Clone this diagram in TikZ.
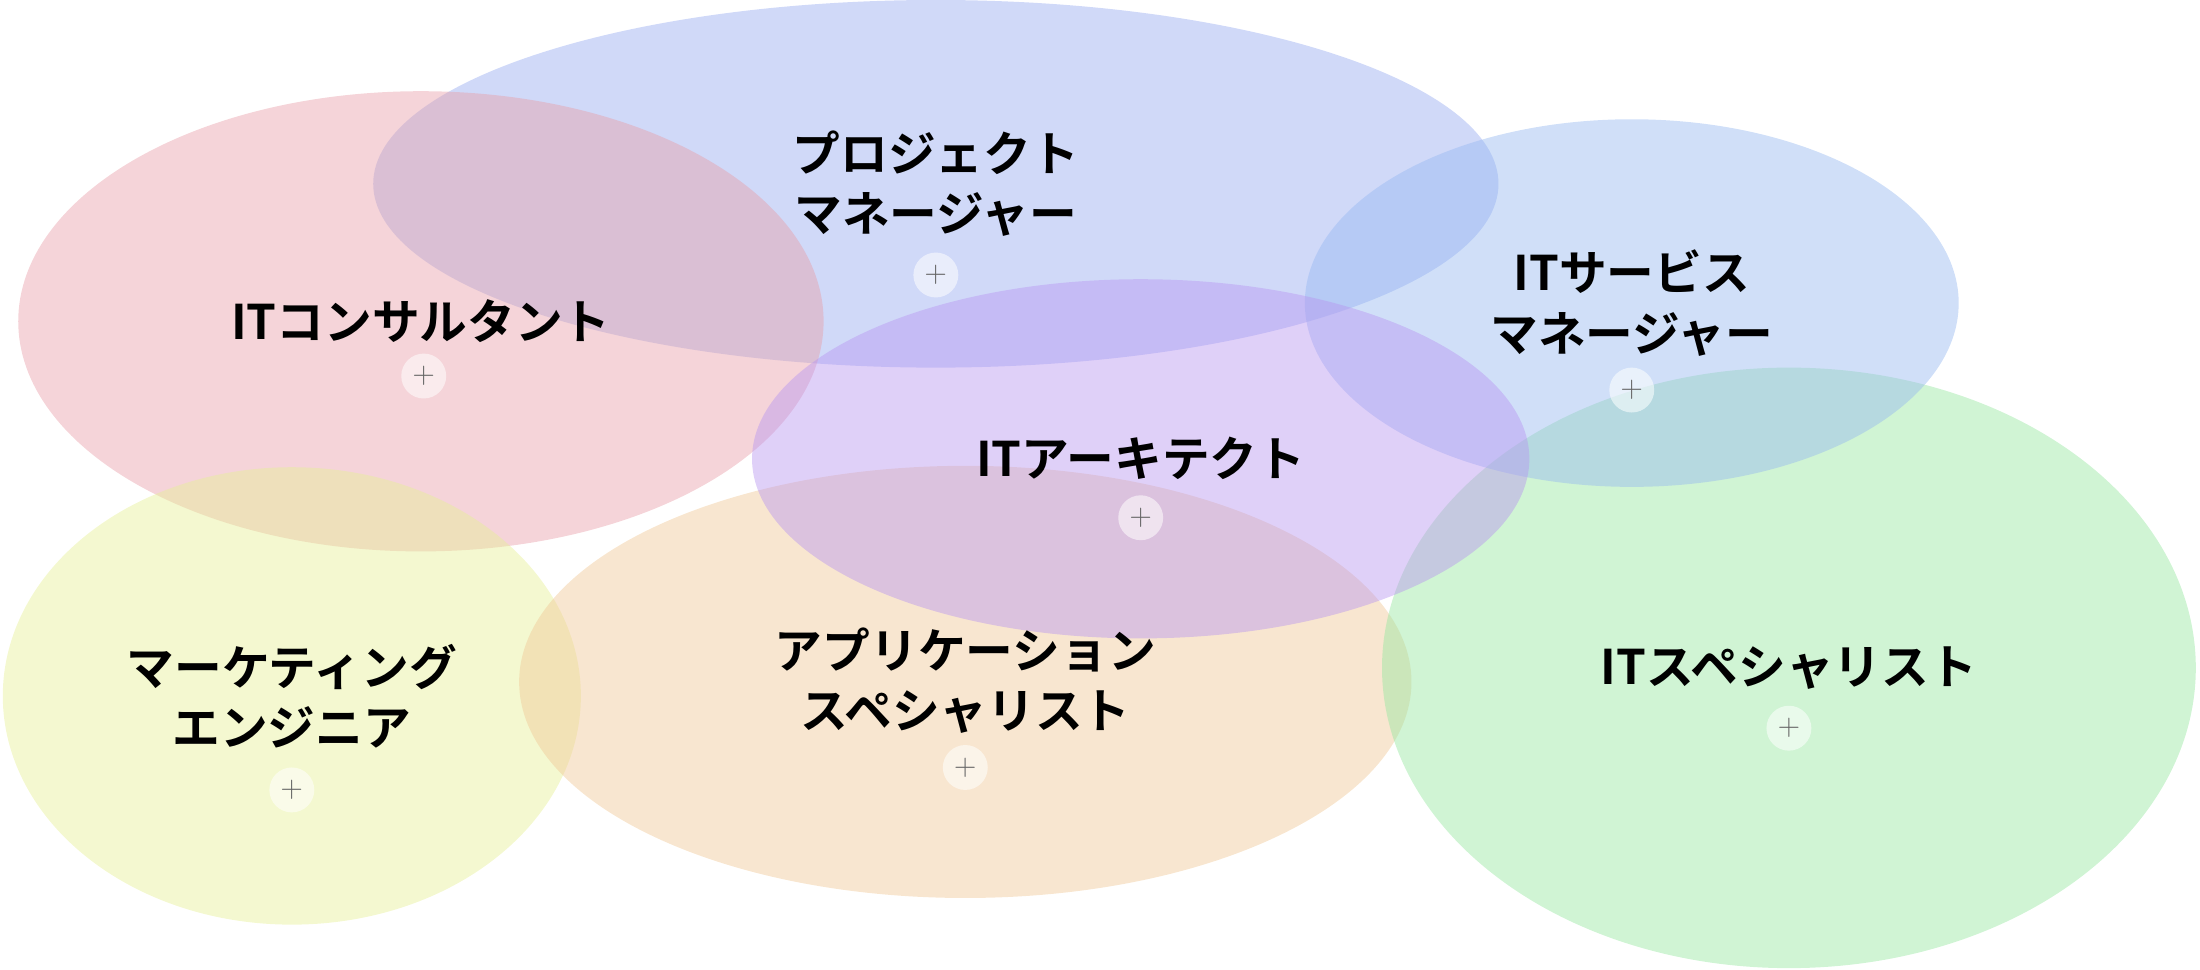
\documentclass[tikz,border=0pt]{standalone}
\usepackage{fontspec}
\newfontfamily\jp{Noto Sans CJK JP}[BoldFont={Noto Sans CJK JP Bold}]
\begin{document}
\begin{tikzpicture}[x=1pt,y=-1pt,
  ell/.style={fill opacity=0.45,draw=none},
  lbl/.style={font=\jp\bfseries\fontsize{34}{43}\selectfont,align=center,text=black},
  plusnode/.style={circle,minimum size=32pt,inner sep=0pt,fill=white,fill opacity=0.55,text opacity=1,text=black!60,font=\fontsize{22}{22}\selectfont}]
\useasboundingbox (0,0) rectangle (1568,691);
\fill[ell,fill={rgb,255:red,150;green,170;blue,240}] (667,131) ellipse [x radius=401,y radius=131];
\fill[ell,fill={rgb,255:red,232;green,160;blue,170}] (300,229) ellipse [x radius=287,y radius=164];
\fill[ell,fill={rgb,255:red,230;green,240;blue,150}] (208,496) ellipse [x radius=206,y radius=163];
\fill[ell,fill={rgb,255:red,240;green,200;blue,150}] (688,486) ellipse [x radius=318,y radius=154];
\fill[ell,fill={rgb,255:red,150;green,230;blue,160}] (1275,476) ellipse [x radius=290,y radius=214];
\fill[ell,fill={rgb,255:red,150;green,185;blue,240}] (1163,216) ellipse [x radius=233,y radius=131];
\fill[ell,fill={rgb,255:red,185;green,150;blue,240}] (813,327) ellipse [x radius=277,y radius=128];
\node[lbl] (t1) at (300,229) {ITコンサルタント};
\node[plusnode] (p1) at (302,268) {+};
\node[lbl] (t2) at (667,131) {プロジェクト\\マネージャー};
\node[plusnode] (p2) at (667,196) {+};
\node[lbl] (t3) at (1163,216) {ITサービス\\マネージャー};
\node[plusnode] (p3) at (1163,278) {+};
\node[lbl] (t4) at (813,327) {ITアーキテクト};
\node[plusnode] (p4) at (813,369) {+};
\node[lbl] (t5) at (208,496) {マーケティング\\エンジニア};
\node[plusnode] (p5) at (208,563) {+};
\node[lbl] (t6) at (688,485) {アプリケーション\\スペシャリスト};
\node[plusnode] (p6) at (688,547) {+};
\node[lbl] (t7) at (1275,476) {ITスペシャリスト};
\node[plusnode] (p7) at (1275,519) {+};
\end{tikzpicture}
\end{document}
